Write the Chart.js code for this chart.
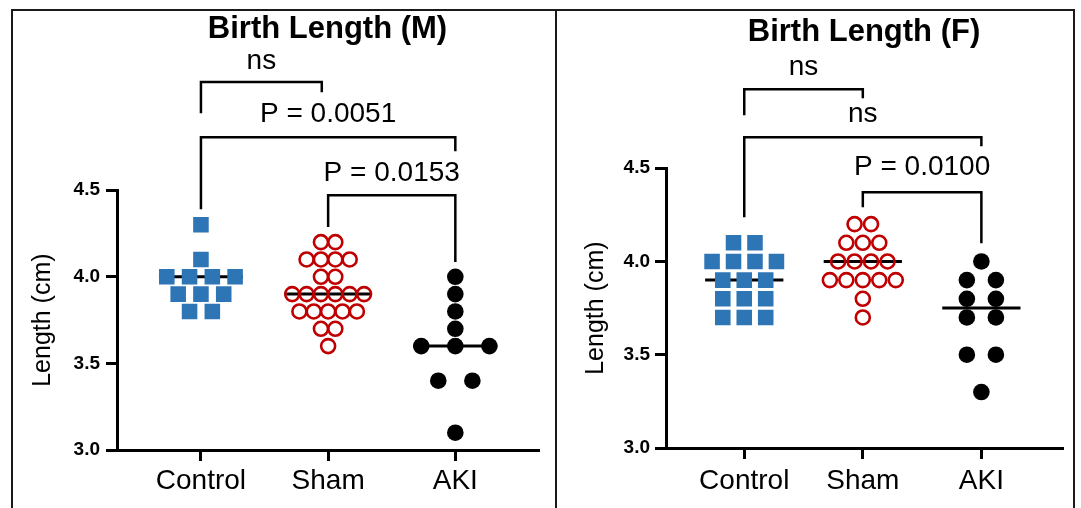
<!DOCTYPE html>
<html>
<head>
<meta charset="utf-8">
<script src="https://cdn.jsdelivr.net/npm/chart.js@4.4.0/dist/chart.umd.min.js"></script>
<style>
  html, body { margin: 0; padding: 0; background: #fff; }
  #frame { position: relative; width: 1081px; height: 508px; overflow: hidden; }
  .rule { position: absolute; background: #1a1a1a; }
  canvas { position: absolute; }
</style>
</head>
<body>
<div id="frame">
  <div class="rule" style="left:11px;top:9px;width:1064px;height:2px"></div>
  <div class="rule" style="left:11px;top:9px;width:2px;height:499px"></div>
  <div class="rule" style="left:555px;top:9px;width:2px;height:499px"></div>
  <div class="rule" style="left:1073px;top:9px;width:2px;height:499px"></div>
  <canvas id="chartM" width="542" height="497" style="left:13px;top:11px"></canvas>
  <canvas id="chartF" width="516" height="497" style="left:557px;top:11px"></canvas>
</div>
<script>
// groups on the x axis
const categories = ['Control', 'Sham', 'AKI'];
const yTicks = [3.0, 3.5, 4.0, 4.5];

// birth length (cm), males
const maleControl = [4.3, 4.1, 4.0, 4.0, 4.0, 4.0, 3.9, 3.9, 3.9, 3.8, 3.8];
const maleSham = [4.2, 4.2, 4.1, 4.1, 4.1, 4.1, 4.0, 4.0, 3.9, 3.9, 3.9, 3.9, 3.9, 3.9,
                  3.8, 3.8, 3.8, 3.8, 3.8, 3.7, 3.7, 3.6];
const maleAKI = [4.0, 3.9, 3.8, 3.7, 3.6, 3.6, 3.6, 3.4, 3.4, 3.1];

// birth length (cm), females
const femaleControl = [4.1, 4.1, 4.0, 4.0, 4.0, 4.0, 3.9, 3.9, 3.9, 3.8, 3.8, 3.8, 3.7, 3.7, 3.7];
const femaleSham = [4.2, 4.2, 4.1, 4.1, 4.1, 4.0, 4.0, 4.0, 4.0, 3.9, 3.9, 3.9, 3.9, 3.9, 3.8, 3.7];
const femaleAKI = [4.0, 3.9, 3.9, 3.8, 3.8, 3.7, 3.7, 3.5, 3.5, 3.3];

// p value labels for the comparisons
const maleLabels = ['ns', 'P = 0.0051', 'P = 0.0153'];
const femaleLabels = ['ns', 'ns', 'P = 0.0100'];

const FONT = '"Liberation Sans", Arial, Helvetica, sans-serif';

function median(values) {
    const s = values.slice().sort((a, b) => a - b);
    const m = Math.floor(s.length / 2);
    return s.length % 2 ? s[m] : (s[m - 1] + s[m]) / 2;
}

// spread equal values side by side, centred on the group
function swarm(values, center, gap) {
    const counts = {}, seen = {};
    values.forEach(v => { counts[v] = (counts[v] || 0) + 1; });
    return values.map(v => {
        const i = seen[v] = (seen[v] === undefined ? 0 : seen[v] + 1);
        return { x: center + (i - (counts[v] - 1) / 2) * gap, y: v };
    });
}

function bracketPlugin(items) {
    return {
        id: 'brackets',
        afterDraw(chart) {
            const { ctx, scales: { x, y } } = chart;
            ctx.save();
            ctx.strokeStyle = '#000';
            ctx.fillStyle = '#000';
            ctx.lineWidth = 2.5;
            ctx.font = '28px ' + FONT;
            ctx.textAlign = 'center';
            ctx.textBaseline = 'middle';
            items.forEach(b => {
                const x1 = x.getPixelForValue(b.from);
                const x2 = x.getPixelForValue(b.to);
                const top = y.getPixelForValue(b.top);
                ctx.beginPath();
                ctx.moveTo(x1, y.getPixelForValue(b.leftEnd));
                ctx.lineTo(x1, top);
                ctx.lineTo(x2, top);
                ctx.lineTo(x2, y.getPixelForValue(b.rightEnd));
                ctx.stroke();
                ctx.fillText(b.label, (x1 + x2) / 2, y.getPixelForValue(b.labelY));
            });
            ctx.restore();
        }
    };
}

function makeChart(id, title, groups, gaps, brackets, g) {
    const datasets = [];
    const styles = [
        { pointStyle: 'rect', pointRadius: 11, backgroundColor: '#2e75b6', borderColor: '#2e75b6', borderWidth: 0 },
        { pointStyle: 'circle', pointRadius: 7, backgroundColor: 'rgba(0,0,0,0)', borderColor: '#c00000', borderWidth: 2.6 },
        { pointStyle: 'circle', pointRadius: 8.3, backgroundColor: '#000', borderColor: '#000', borderWidth: 0 }
    ];
    groups.forEach((vals, i) => {
        datasets.push(Object.assign({
            label: categories[i],
            data: swarm(vals, i + 1, gaps[i])
        }, styles[i]));
    });
    groups.forEach((vals, i) => {
        const m = median(vals);
        datasets.push({
            label: categories[i] + ' median',
            data: [{ x: i + 1 - 0.33, y: m }, { x: i + 1 + 0.33, y: m }],
            showLine: true,
            borderColor: '#000',
            borderWidth: 3,
            pointRadius: 0
        });
    });

    return new Chart(document.getElementById(id), {
        type: 'scatter',
        data: { datasets: datasets },
        plugins: [bracketPlugin(brackets)],
        options: {
            responsive: false,
            animation: false,
            events: [],
            layout: { padding: { top: 0, right: g.padRight, bottom: 0, left: 0 } },
            plugins: {
                legend: { display: false },
                tooltip: { enabled: false },
                title: {
                    display: true,
                    text: title,
                    fullSize: false,
                    color: '#000',
                    font: { family: FONT, size: 31, weight: 'bold' },
                    padding: { top: g.titleTop, bottom: g.titleBottom }
                }
            },
            scales: {
                x: {
                    type: 'linear',
                    min: 0.34,
                    max: g.xMax,
                    afterBuildTicks: s => { s.ticks = categories.map((c, i) => ({ value: i + 1 })); },
                    afterFit: s => { s.height = g.xHeight; },
                    border: { display: true, color: '#000', width: 3 },
                    grid: { drawOnChartArea: false, drawTicks: true, tickLength: 11, lineWidth: 3, color: '#000' },
                    ticks: {
                        autoSkip: false,
                        maxRotation: 0,
                        padding: g.xPad,
                        color: '#000',
                        font: { family: FONT, size: 28 },
                        callback: v => categories[v - 1]
                    }
                },
                y: {
                    min: 3.0,
                    max: 4.5,
                    afterBuildTicks: s => { s.ticks = yTicks.map(v => ({ value: v })); },
                    afterFit: s => { s.width = g.yWidth; },
                    border: { display: true, color: '#000', width: 3 },
                    grid: { drawOnChartArea: false, drawTicks: true, tickLength: 11, lineWidth: 3, color: '#000' },
                    ticks: {
                        padding: g.yPad,
                        color: '#000',
                        font: { family: FONT, size: 19, weight: 'bold' },
                        callback: v => v.toFixed(1)
                    },
                    title: {
                        display: true,
                        text: 'Length (cm)',
                        color: '#000',
                        font: { family: FONT, size: 25 },
                        padding: { top: g.yTitlePad, bottom: 0 }
                    }
                }
            }
        }
    });
}

makeChart('chartM', 'Birth Length (M)',
    [maleControl, maleSham, maleAKI],
    [0.179, 0.113, 0.268],
    [
        { from: 1, to: 1.95, top: 5.124, leftEnd: 4.945, rightEnd: 5.066, labelY: 5.245, label: maleLabels[0] },
        { from: 1, to: 3, top: 4.806, leftEnd: 4.39, rightEnd: 4.725, labelY: 4.94, label: maleLabels[1] },
        { from: 2, to: 3, top: 4.471, leftEnd: 4.287, rightEnd: 4.085, labelY: 4.598, label: maleLabels[2] }
    ],
    { padRight: 17, xMax: 3.65, xHeight: 58, xPad: 3, yWidth: 104, yPad: 6, yTitlePad: 15, titleTop: 0, titleBottom: 142 });

makeChart('chartF', 'Birth Length (F)',
    [femaleControl, femaleSham, femaleAKI],
    [0.181, 0.139, 0.245],
    [
        { from: 1, to: 2, top: 4.923, leftEnd: 4.784, rightEnd: 4.875, labelY: 5.04, label: femaleLabels[0] },
        { from: 1, to: 3, top: 4.666, leftEnd: 4.237, rightEnd: 4.618, labelY: 4.789, label: femaleLabels[1] },
        { from: 2, to: 3, top: 4.371, leftEnd: 4.291, rightEnd: 4.098, labelY: 4.505, label: femaleLabels[2] }
    ],
    { padRight: 11, xMax: 3.68, xHeight: 60, xPad: 5, yWidth: 109, yPad: 5, yTitlePad: 24, titleTop: 3, titleBottom: 117 });
</script>
</body>
</html>
